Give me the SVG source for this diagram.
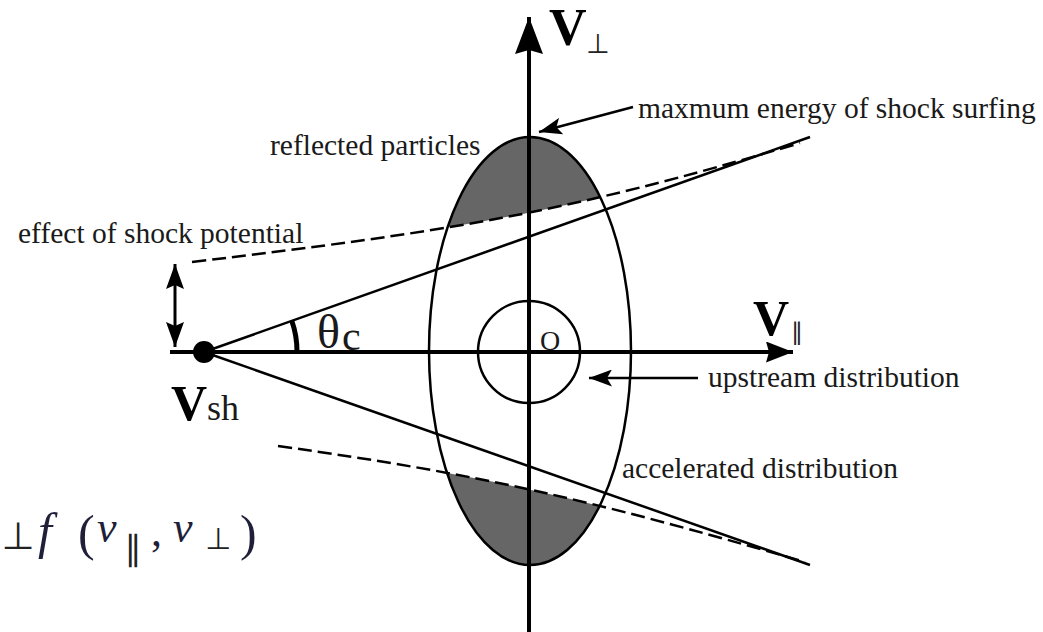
<svg xmlns="http://www.w3.org/2000/svg" width="1043" height="632" viewBox="0 0 1043 632">
<style>
.lbl{font-family:"Liberation Serif","DejaVu Serif",serif;font-size:29.5px;fill:#1a1a1a}
.big{font-family:"Liberation Serif","DejaVu Serif",serif;font-weight:bold;fill:#000}
.sym{font-family:"DejaVu Sans","Liberation Serif",sans-serif;fill:#222}
.math{font-family:"Liberation Serif","DejaVu Serif",serif;fill:#1f1f3a}
.it{font-style:italic}
.ln{stroke:#000;stroke-width:2.5;fill:none}
.dash{stroke:#000;stroke-width:2.5;fill:none;stroke-dasharray:14 6}
.axis{stroke:#000;stroke-width:4;fill:none}
.shade{fill:#666}
</style>
<defs>
<marker id="headV" markerUnits="userSpaceOnUse" markerWidth="38" markerHeight="28" viewBox="0 0 38 28" refX="37" refY="14" orient="auto"><path d="M0,0 L37,14 L0,28 L4,14 Z" fill="#000"/></marker>
<marker id="headH" markerUnits="userSpaceOnUse" markerWidth="28" markerHeight="21" viewBox="0 0 28 21" refX="27" refY="10.5" orient="auto"><path d="M0,0 L27,10.5 L0,21 L3,10.5 Z" fill="#000"/></marker>
<marker id="headL" markerUnits="userSpaceOnUse" markerWidth="24" markerHeight="17" viewBox="0 0 24 17" refX="23" refY="8.5" orient="auto"><path d="M0,0 L23,8.5 L0,17 L5,8.5 Z" fill="#000"/></marker>
<marker id="headD" markerUnits="userSpaceOnUse" markerWidth="26" markerHeight="18" viewBox="0 0 26 18" refX="25" refY="9" orient="auto-start-reverse"><path d="M0,0 L25,9 L0,18 L4,9 Z" fill="#000"/></marker>
<clipPath id="clipTop"><path d="M192,262 C442,232 560,215 800,143 L800,0 L192,0 Z"/></clipPath>
<clipPath id="clipBot"><path d="M278,446 C478,474 585,498 805,562 L805,632 L278,632 Z"/></clipPath>
</defs>

<g id="accelerated-distribution">
<ellipse class="shade" cx="530" cy="351" rx="101" ry="214" clip-path="url(#clipTop)"/>
<ellipse class="shade" cx="530" cy="351" rx="101" ry="214" clip-path="url(#clipBot)"/>
<ellipse class="ln" cx="530" cy="351" rx="101" ry="214"/>
</g>

<g id="upstream-distribution">
<circle class="ln" cx="529" cy="352" r="51"/>
</g>

<g id="connectors">
<line class="axis" x1="529" y1="632" x2="529" y2="17" marker-end="url(#headV)"/>
<line class="axis" x1="170" y1="352" x2="793" y2="352" marker-end="url(#headH)"/>
<line class="ln" x1="204" y1="352" x2="810" y2="137"/>
<line class="ln" x1="204" y1="352" x2="810" y2="565"/>
<path class="dash" d="M192,262 C442,232 560,215 800,143"/>
<path class="dash" d="M278,446 C478,474 585,498 805,562"/>
<path d="M297,352 A93,93 0 0 0 291.7,320.5" stroke="#000" stroke-width="5" fill="none"/>
<line x1="633" y1="107" x2="539" y2="132" stroke="#000" stroke-width="2.5" marker-end="url(#headL)"/>
<line x1="698" y1="378" x2="589" y2="378" stroke="#000" stroke-width="2.5" marker-end="url(#headL)"/>
<line x1="175" y1="264" x2="175" y2="347" stroke="#000" stroke-width="3" marker-start="url(#headD)" marker-end="url(#headD)"/>
</g>

<g id="shock-point">
<circle cx="204" cy="352" r="11" fill="#000"/>
<text class="big" x="171" y="420" style="font-size:50px">V</text>
<text class="lbl" x="207" y="420" style="font-size:36px">sh</text>
</g>

<g id="axis-labels">
<text class="big" x="549" y="45" style="font-size:52px">V</text>
<text class="sym" x="598" y="53" style="font-size:27px" text-anchor="middle">⊥</text>
<text class="big" x="753" y="335" style="font-size:50px">V</text>
<text class="sym" x="797" y="340" style="font-size:24px" text-anchor="middle">∥</text>
<text class="lbl" x="540" y="350" style="font-size:28px">O</text>
<text class="lbl" x="317" y="348" style="font-size:48px">θ</text>
<text class="lbl" x="342" y="350" style="font-size:42px">c</text>
</g>

<g id="labels">
<text class="lbl" x="638" y="118">maxmum energy of shock surfing</text>
<text class="lbl" x="270" y="155">reflected particles</text>
<text class="lbl" x="18" y="243">effect of shock potential</text>
<text class="lbl" x="708" y="387">upstream distribution</text>
<text class="lbl" x="622" y="478">accelerated distribution</text>
</g>

<g id="formula">
<text class="sym" x="18" y="549" style="font-size:38px" text-anchor="middle">⊥</text>
<text class="math it" x="38" y="548" style="font-size:50px">f</text>
<text class="math" x="78" y="550" style="font-size:50px">(</text>
<text class="math it" x="97" y="542" style="font-size:44px">v</text>
<text class="sym" x="133" y="560" style="font-size:34px" text-anchor="middle">∥</text>
<text class="math" x="151" y="546" style="font-size:44px">,</text>
<text class="math it" x="173" y="542" style="font-size:44px">v</text>
<text class="sym" x="218" y="549" style="font-size:30px" text-anchor="middle">⊥</text>
<text class="math" x="240" y="550" style="font-size:50px">)</text>
</g>
</svg>
